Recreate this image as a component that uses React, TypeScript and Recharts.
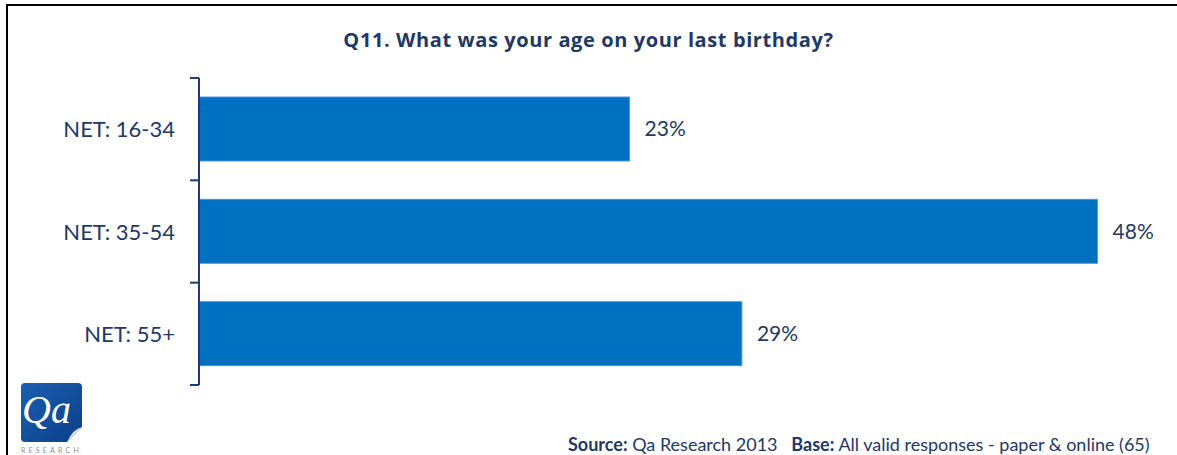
import { BarChart, Bar, XAxis, YAxis, LabelList } from 'recharts'

const categories = ['NET: 16-34', 'NET: 35-54', 'NET: 55+']
const shares = [23, 48, 29]
const xDomain = [0, 50]

const navy = '#1F3864'
const axisNavy = '#1F3A78'
const font = 'Lato, "Open Sans", sans-serif'

const data = categories.map((c, i) => ({ name: c, value: shares[i] }))

function AgeTick(props: any) {
  const { x, y, payload, index } = props
  const half = payload?.offset ?? 51
  const axisX = x + 8
  return (
    <g>
      <text x={x - 16} y={y} dy={8} textAnchor="end" fill={navy} fontSize={22} fontFamily={font}>
        {payload.value}
      </text>
      <line x1={axisX - 9} x2={axisX} y1={y - half} y2={y - half} stroke={axisNavy} strokeWidth={2} />
      {index === categories.length - 1 && (
        <line x1={axisX - 9} x2={axisX} y1={y + half} y2={y + half} stroke={axisNavy} strokeWidth={2} />
      )}
    </g>
  )
}

function Logo() {
  return (
    <div style={{ position: 'absolute', left: 21, top: 383, width: 62 }}>
      <svg width={61} height={59}>
        <defs>
          <linearGradient id="qaGrad" x1="0" y1="0" x2="1" y2="1">
            <stop offset="0%" stopColor="#1C5FB0" />
            <stop offset="100%" stopColor="#0B3F8A" />
          </linearGradient>
        </defs>
        <path d="M4 0 H57 Q61 0 61 4 V44 L46 59 H4 Q0 59 0 55 V4 Q0 0 4 0 Z" fill="url(#qaGrad)" />
        <path d="M46 59 L61 44 Q52 46 46 59 Z" fill="#DDE3EC" />
        <text x={1} y={40} fill="#fff" fontSize={40} fontStyle="italic" fontFamily="'Liberation Serif', serif">Qa</text>
      </svg>
      <div style={{ fontSize: 7, letterSpacing: 3.2, color: '#8A8F96', fontFamily: font, marginTop: 1 }}>RESEARCH</div>
    </div>
  )
}

export default function App() {
  return (
    <div style={{ position: 'absolute', left: 0, top: 0, width: 1177, height: 455, background: '#fff', overflow: 'hidden', fontFamily: font }}>
      <div style={{ position: 'absolute', left: 6, top: 4, width: 1177, height: 460, borderTop: '2px solid #000', borderLeft: '2px solid #000' }} />
      <div style={{ position: 'absolute', left: 0, width: 1177, top: 26, textAlign: 'center', color: navy, fontSize: 20, fontWeight: 700, letterSpacing: 0.6, fontFamily: '"Open Sans", sans-serif' }}>
        Q11. What was your age on your last birthday?
      </div>
      <div style={{ position: 'absolute', left: 0, top: 0 }}>
        <BarChart
          width={1177}
          height={455}
          data={data}
          layout="vertical"
          margin={{ top: 78, right: 42, bottom: 70, left: 0 }}
        >
          <XAxis type="number" domain={xDomain} hide />
          <YAxis
            type="category"
            dataKey="name"
            width={199}
            axisLine={{ stroke: axisNavy, strokeWidth: 2 }}
            tickLine={false}
            tick={<AgeTick />}
          />
          <Bar dataKey="value" fill="#0070C0" stroke="#4D95D6" strokeWidth={1} barSize={64} isAnimationActive={false}>
            <LabelList
              dataKey="value"
              position="right"
              offset={15}
              formatter={(v: any) => `${v}%`}
              fill={navy}
              fontSize={21}
              fontFamily={font}
            />
          </Bar>
        </BarChart>
      </div>
      <Logo />
      <div style={{ position: 'absolute', left: 568, top: 433, color: navy, fontSize: 18, whiteSpace: 'nowrap' }}>
        <b>Source:</b> Qa Research 2013&nbsp;&nbsp; <b>Base:</b> All valid responses - paper &amp; online (65)
      </div>
    </div>
  )
}
